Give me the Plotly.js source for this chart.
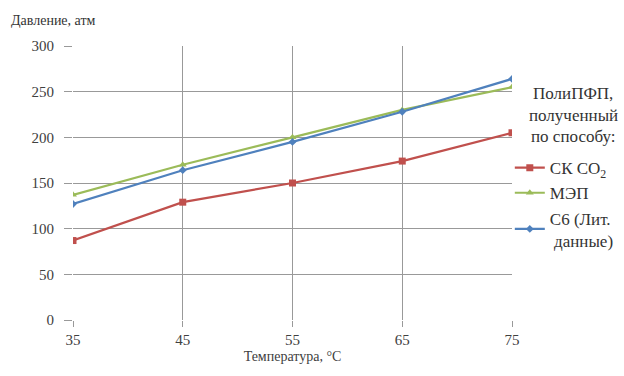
<!DOCTYPE html>
<html><head><meta charset="utf-8">
<script src="https://cdn.plot.ly/plotly-3.0.1.min.js"></script>
<style>body{margin:0;background:#fff}#c{width:624px;height:376px}</style>
</head><body><div id="c"></div>
<script>
const temps = [35, 45, 55, 65, 75];
const skCO2 = [87, 129, 150, 174, 205];
const mep = [137, 170, 200, 230, 255];
const c6 = [127, 164, 195, 228, 264];
const seriesNames = ['СК CO<sub>2</sub>', 'МЭП', 'С6 (Лит.<br> данные)'];
const legendHeading = ['ПолиПФП,', 'полученный', 'по способу:'];
const yTicks = [0, 50, 100, 150, 200, 250, 300];

const FAM = 'Liberation Serif';
const font = {family: FAM, size: 14, color: '#404040'};
const traces = [
  {x: temps, y: skCO2, name: seriesNames[0], mode: 'lines+markers',
   line: {color: '#C0504D', width: 2.2}, marker: {symbol: 'square', size: 7, color: '#C0504D'}},
  {x: temps, y: mep, name: seriesNames[1], mode: 'lines+markers',
   line: {color: '#9BBB59', width: 2.2}, marker: {symbol: 'triangle-up', size: 7, color: '#9BBB59'}},
  {x: temps, y: c6, name: seriesNames[2], mode: 'lines+markers',
   line: {color: '#4F81BD', width: 2.2}, marker: {symbol: 'diamond', size: 6, color: '#4F81BD'}}
];
const headingY = [0.828, 0.748, 0.668];
const annotations = [
  {text: 'Давление, атм', xref: 'paper', yref: 'paper', x: -0.145, y: 1.06, xanchor: 'left', yanchor: 'bottom',
   showarrow: false, font: {family: FAM, size: 14, color: '#333'}}
];
legendHeading.forEach((t, i) => annotations.push({
  text: t, xref: 'paper', yref: 'paper', x: 1.14, y: headingY[i], xanchor: 'center', yanchor: 'middle',
  showarrow: false, font: {family: FAM, size: 17, color: '#333'}
}));
const layout = {
  width: 624, height: 376,
  margin: {l: 73, r: 112, t: 46, b: 56, autoexpand: false},
  paper_bgcolor: '#fff', plot_bgcolor: '#fff',
  font: font,
  showlegend: true,
  legend: {x: 0.995, xanchor: 'left', y: 0.62, yanchor: 'top', font: {family: FAM, size: 17, color: '#333'},
           itemwidth: 30, tracegroupgap: 13, bgcolor: 'rgba(0,0,0,0)'},
  xaxis: {range: [35, 75], tickvals: temps, showgrid: true, gridcolor: '#999', gridwidth: 1,
          zeroline: false, showline: false, ticks: 'outside', ticklen: 6, tickcolor: '#999',
          tickfont: {family: FAM, size: 15, color: '#404040'},
          title: {text: 'Температура, °С', font: {family: FAM, size: 14, color: '#404040'}, standoff: 4}},
  yaxis: {range: [0, 300], tickvals: yTicks, showgrid: true, gridcolor: '#999', gridwidth: 1,
          zeroline: false, showline: false, ticks: 'outside', ticklen: 8, tickcolor: '#999',
          ticklabelstandoff: 7,
          tickfont: {family: FAM, size: 15, color: '#404040'}},
  annotations: annotations
};
Plotly.newPlot('c', traces, layout, {displayModeBar: false, staticPlot: true});
</script></body></html>
